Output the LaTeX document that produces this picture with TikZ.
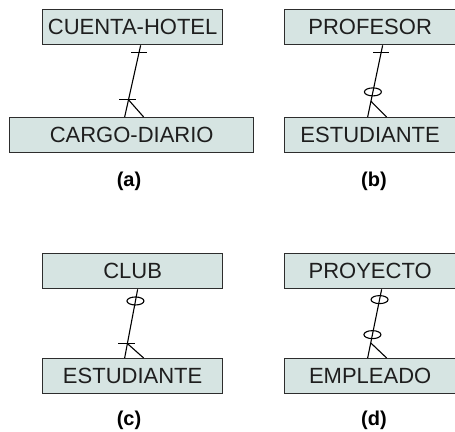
\documentclass[tikz,border=0pt]{standalone}
\usepackage{fontspec}
\setmainfont{Liberation Sans}
\usepackage{xcolor}
\usepackage{tikz}
\usetikzlibrary{calc, positioning}

\definecolor{relleno}{RGB}{214,228,226}
\definecolor{borde}{RGB}{45,45,45}
\definecolor{texto}{RGB}{30,30,30}

\begin{document}
\begin{tikzpicture}[x=1pt, y=-1pt,
    entidad/.style={draw=borde, fill=relleno, line width=1.3pt, inner sep=0pt,
        minimum height=35, anchor=north west, text=texto,
        font=\fontsize{22}{24}\selectfont},
    rel/.style={line width=1.1pt, black},
    rotulo/.style={font=\fontsize{20}{22}\selectfont\bfseries}]
    \useasboundingbox (0,0) rectangle (455,431);

    % Entidades
    \node[entidad, minimum width=180] (cuenta) at (42,9) {CUENTA-HOTEL};
    \node[entidad, minimum width=244] (cargo) at (9,117) {CARGO-DIARIO};
    \node[entidad, minimum width=171] (profesor) at (284,9) {PROFESOR};
    \node[entidad, minimum width=171] (estudB) at (284,117) {ESTUDIANTE};
    \node[entidad, minimum width=180] (club) at (42,253) {CLUB};
    \node[entidad, minimum width=180] (estudC) at (42,358) {ESTUDIANTE};
    \node[entidad, minimum width=171] (proyecto) at (284,253) {PROYECTO};
    \node[entidad, minimum width=171] (empleado) at (284,358) {EMPLEADO};

    % Rótulos
    \node[rotulo] (ra) at (129,181) {(a)};
    \node[rotulo] (rb) at (374,181) {(b)};
    \node[rotulo] (rc) at (129,420) {(c)};
    \node[rotulo] (rd) at (374,420) {(d)};

    % (a) uno a muchos, obligatorio
    \draw[rel] ($(cuenta.south)+(8,0)$) -- ($(cargo.north)+(-7,0)$)
        coordinate[pos=.1] (a1) coordinate[pos=.76] (a2);
    \draw[rel] ($(a1)+(-8,0)$) -- ($(a1)+(8,0)$);
    \draw[rel] ($(a2)+(-9,0)$) -- ($(a2)+(8,0)$);
    \draw[rel] (a2) -- ($(cargo.north)+(12,0)$);

    % (b)
    \draw[rel] ($(profesor.south)+(12.5,0)$) -- ($(estudB.north)+(-2.5,0)$)
        coordinate[pos=.1] (b1) coordinate[pos=.65] (b2) coordinate[pos=.78] (b3);
    \draw[rel] ($(b1)+(-8,0)$) -- ($(b1)+(8,0)$);
    \draw[rel] (b2) ellipse (8.5 and 4);
    \draw[rel] (b3) -- ($(estudB.north)+(16.5,0)$);

    % (c)
    \draw[rel] ($(club.south)+(5,0)$) -- ($(estudC.north)+(-8,0)$)
        coordinate[pos=.17] (c1) coordinate[pos=.79] (c2);
    \draw[rel] (c1) ellipse (8.5 and 4);
    \draw[rel] ($(c2)+(-9,0)$) -- ($(c2)+(8,0)$);
    \draw[rel] (c2) -- ($(estudC.north)+(11,0)$);

    % (d)
    \draw[rel] ($(proyecto.south)+(11.5,0)$) -- ($(empleado.north)+(-2.5,0)$)
        coordinate[pos=.15] (d1) coordinate[pos=.66] (d2) coordinate[pos=.78] (d3);
    \draw[rel] (d1) ellipse (8.5 and 4);
    \draw[rel] (d2) ellipse (8.5 and 4);
    \draw[rel] (d3) -- ($(empleado.north)+(16.5,0)$);
\end{tikzpicture}
\end{document}
